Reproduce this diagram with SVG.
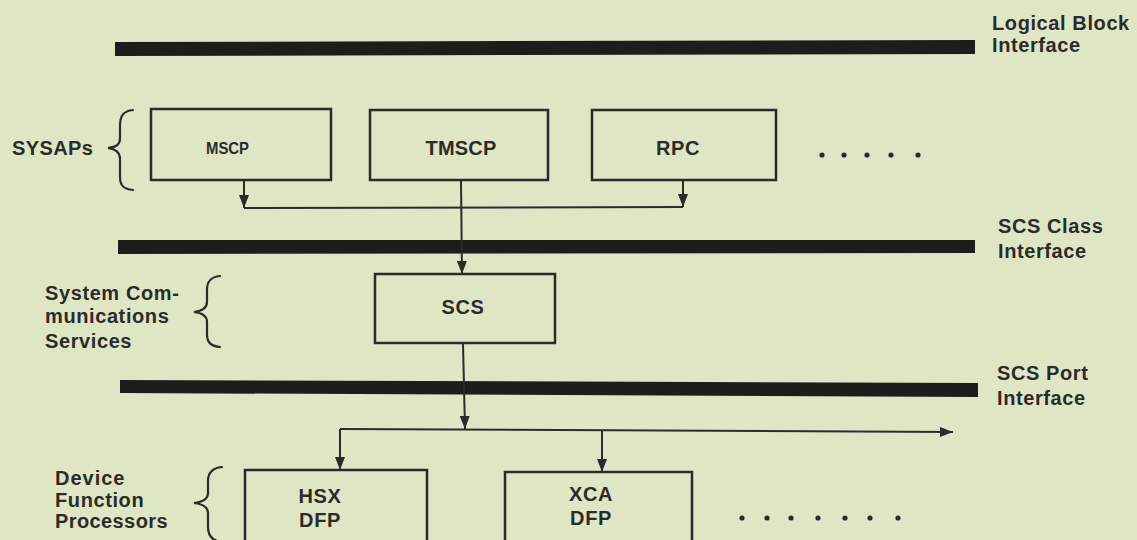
<svg xmlns="http://www.w3.org/2000/svg" width="1137" height="540" viewBox="0 0 1137 540">
  <style>
    .lbl { font-family: "Liberation Sans", Arial, sans-serif; font-weight: bold; font-size: 20px; letter-spacing: 0.6px; fill: #2b2c27; }
    .box { fill: none; stroke: #2b2c27; stroke-width: 2.5; }
    .bar { fill: #1d1e1b; }
    .conn { fill: none; stroke: #2b2c27; stroke-width: 2; }
    .brace { fill: none; stroke: #2b2c27; stroke-width: 2.2; stroke-linecap: round; }
    .dot { fill: #2b2c27; }
  </style>
  <defs>
    <marker id="arrow" markerUnits="userSpaceOnUse" markerWidth="14" markerHeight="11" refX="13" refY="5.5" orient="auto">
      <path d="M0,0.5 L13,5.5 L0,10.5 z" fill="#2b2c27"/>
    </marker>
  </defs>
  <rect x="0" y="0" width="1137" height="540" fill="#dfe6c6"/>

  <!-- interface bars -->
  <g id="logical-block-interface">
    <polygon class="bar" points="115,42 975,40 975,54 115,56"/>
    <text class="lbl" x="992" y="30">Logical Block</text>
    <text class="lbl" x="992" y="52">Interface</text>
  </g>
  <g id="scs-class-interface">
    <polygon class="bar" points="118,240 975,240 975,253 118,254"/>
    <text class="lbl" x="998" y="233">SCS Class</text>
    <text class="lbl" x="998" y="258">Interface</text>
  </g>
  <g id="scs-port-interface">
    <polygon class="bar" points="120,380 978,383 978,397 120,393"/>
    <text class="lbl" x="997" y="380">SCS Port</text>
    <text class="lbl" x="997" y="405">Interface</text>
  </g>

  <!-- layer labels -->
  <g id="sysaps-label">
    <text class="lbl" x="12" y="155" style="letter-spacing:0.4px">SYSAPs</text>
    <path class="brace" d="M133,110 C123,111 120,116 120,126 L120,138 C120,145 116,147 108,148 C116,149 120,152 120,159 L120,177 C120,186 124,189 133,190"/>
  </g>
  <g id="scs-layer-label">
    <text class="lbl" x="45" y="300">System Com-</text>
    <text class="lbl" x="45" y="323">munications</text>
    <text class="lbl" x="45" y="348">Services</text>
    <path class="brace" d="M220,276 C210,277 207,282 207,290 L207,302 C207,308 203,311 194,312 C203,313 207,316 207,322 L207,334 C207,342 210,346 220,347"/>
  </g>
  <g id="dfp-label">
    <text class="lbl" x="55" y="485" style="letter-spacing:1px">Device</text>
    <text class="lbl" x="55" y="507">Function</text>
    <text class="lbl" x="55" y="528" style="letter-spacing:0.4px">Processors</text>
    <path class="brace" d="M222,467 C212,468 208,473 208,481 L208,493 C208,499 204,502 194,503 C204,504 208,507 208,513 L208,527 C208,536 212,541 222,542"/>
  </g>

  <!-- nodes -->
  <g id="mscp">
    <rect class="box" x="151" y="109" width="180" height="71"/>
    <text class="lbl" x="206" y="154" textLength="43" lengthAdjust="spacingAndGlyphs" style="font-size:17px;letter-spacing:0">MSCP</text>
  </g>
  <g id="tmscp">
    <rect class="box" x="370" y="110" width="178" height="70"/>
    <text class="lbl" x="461" y="155" text-anchor="middle" style="letter-spacing:0.2px">TMSCP</text>
  </g>
  <g id="rpc">
    <rect class="box" x="592" y="110" width="184" height="70"/>
    <text class="lbl" x="678" y="155" text-anchor="middle">RPC</text>
  </g>
  <g id="more-sysaps">
    <circle class="dot" cx="822" cy="155" r="2.6"/>
    <circle class="dot" cx="844" cy="155" r="2.6"/>
    <circle class="dot" cx="867" cy="155" r="2.6"/>
    <circle class="dot" cx="891" cy="155" r="2.6"/>
    <circle class="dot" cx="918" cy="155" r="2.6"/>
  </g>
  <g id="scs">
    <rect class="box" x="375" y="274" width="180" height="69"/>
    <text class="lbl" x="463" y="314" text-anchor="middle">SCS</text>
  </g>
  <g id="hsx-dfp">
    <rect class="box" x="245" y="470" width="182" height="90"/>
    <text class="lbl" x="320" y="503" text-anchor="middle">HSX</text>
    <text class="lbl" x="320" y="527" text-anchor="middle">DFP</text>
  </g>
  <g id="xca-dfp">
    <rect class="box" x="505" y="472" width="187" height="90"/>
    <text class="lbl" x="591" y="501" text-anchor="middle">XCA</text>
    <text class="lbl" x="591" y="525" text-anchor="middle">DFP</text>
  </g>
  <g id="more-dfps">
    <circle class="dot" cx="742" cy="518" r="2.6"/>
    <circle class="dot" cx="767" cy="518" r="2.6"/>
    <circle class="dot" cx="791" cy="518" r="2.6"/>
    <circle class="dot" cx="818" cy="518" r="2.6"/>
    <circle class="dot" cx="845" cy="518" r="2.6"/>
    <circle class="dot" cx="870" cy="518" r="2.6"/>
    <circle class="dot" cx="898" cy="518" r="2.6"/>
  </g>

  <!-- connectors -->
  <g id="connectors">
    <path class="conn" d="M244,181 L244,208" marker-end="url(#arrow)"/>
    <path class="conn" d="M683,181 L683,207" marker-end="url(#arrow)"/>
    <path class="conn" d="M244,208 L683,207"/>
    <path class="conn" d="M461,181 L462,274" marker-end="url(#arrow)"/>
    <path class="conn" d="M463,344 L465,429" marker-end="url(#arrow)"/>
    <path class="conn" d="M340,429 L953,432" marker-end="url(#arrow)"/>
    <path class="conn" d="M340,429 L340,470" marker-end="url(#arrow)"/>
    <path class="conn" d="M602,430 L602,472" marker-end="url(#arrow)"/>
  </g>
</svg>
